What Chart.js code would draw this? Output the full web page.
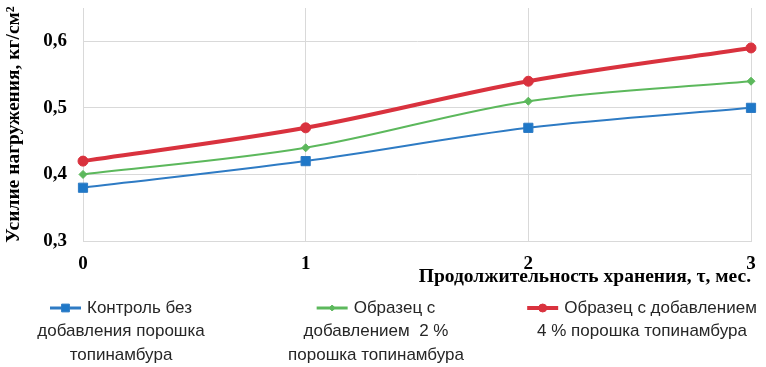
<!DOCTYPE html>
<html>
<head>
<meta charset="utf-8">
<script src="https://cdn.jsdelivr.net/npm/chart.js@4"></script>
<style>
  html, body { margin: 0; padding: 0; background: #fff; }
  #wrap { width: 766px; height: 367px; }
</style>
</head>
<body>
<div id="wrap"><canvas id="grafico"></canvas></div>
<script>
// Данные графика
const meses = ['0', '1', '2', '3'];
const controle = [0.38, 0.42, 0.47, 0.50];
const amostra2 = [0.40, 0.44, 0.51, 0.54];
const amostra4 = [0.42, 0.47, 0.54, 0.59];
const ticksY = [0.3, 0.4, 0.5, 0.6];

// Подписи легенды (по строкам)
const legenda = [
    ['Контроль без', 'добавления порошка', 'топинамбура'],
    ['Образец с', 'добавлением  2 %', 'порошка топинамбура'],
    ['Образец с добавлением', '4 % порошка топинамбура']
];
const centrosLegenda = [121, 376, 642];

const fonteSerif = '"Liberation Serif", "DejaVu Serif", serif';
const fonteLegenda = '"Liberation Sans", "Roboto", sans-serif';

// Plugin para desenhar a legenda centrada em várias linhas
const legendaPlugin = {
    id: 'legendaMulti',
    afterDraw(chart) {
        const ctx = chart.ctx;
        ctx.save();
        ctx.font = '17px ' + fonteLegenda;
        ctx.textBaseline = 'middle';
        chart.data.datasets.forEach((ds, i) => {
            const linhas = legenda[i];
            const cx = centrosLegenda[i];
            linhas.forEach((txt, j) => {
                const y = 308 + j * 23.5;
                const w = ctx.measureText(txt).width;
                ctx.fillStyle = '#262626';
                if (j === 0) {
                    const iconW = 31;
                    const x0 = cx - (iconW + 6 + w) / 2;
                    ctx.strokeStyle = ds.borderColor;
                    ctx.lineWidth = Math.max(ds.borderWidth, 3);
                    ctx.beginPath();
                    ctx.moveTo(x0, y);
                    ctx.lineTo(x0 + iconW, y);
                    ctx.stroke();
                    ctx.fillStyle = ds.backgroundColor;
                    ctx.lineWidth = 1;
                    Chart.helpers.drawPoint(ctx, {
                        pointStyle: ds.pointStyle,
                        radius: ds.pointRadius - 1,
                        borderWidth: 1,
                        rotation: 0
                    }, x0 + iconW / 2, y);
                    ctx.fillStyle = '#262626';
                    ctx.textAlign = 'left';
                    ctx.fillText(txt, x0 + iconW + 6, y);
                } else {
                    ctx.textAlign = 'center';
                    ctx.fillText(txt, cx, y);
                }
            });
        });
        ctx.restore();
    }
};

function gerarGrafico() {
    const ctx = document.getElementById('grafico').getContext('2d');
    new Chart(ctx, {
        type: 'line',
        data: {
            labels: meses,
            datasets: [{
                label: legenda[0].join(' '),
                data: controle,
                borderColor: '#2e7bc4',
                backgroundColor: '#1f78c8',
                borderWidth: 2,
                pointStyle: 'rect',
                pointRadius: 6.5,
                pointBorderWidth: 1,
                cubicInterpolationMode: 'monotone'
            }, {
                label: legenda[1].join(' '),
                data: amostra2,
                borderColor: '#5cb85c',
                backgroundColor: '#5cb85c',
                borderWidth: 2,
                pointStyle: 'rectRot',
                pointRadius: 4,
                pointBorderWidth: 1,
                cubicInterpolationMode: 'monotone'
            }, {
                label: legenda[2].join(' '),
                data: amostra4,
                borderColor: '#d9323e',
                backgroundColor: '#d9323e',
                borderWidth: 4,
                pointStyle: 'circle',
                pointRadius: 5,
                pointBorderWidth: 1,
                cubicInterpolationMode: 'monotone'
            }]
        },
        options: {
            responsive: true,
            maintainAspectRatio: false,
            animation: false,
            layout: { padding: { top: 0, right: 15, bottom: 80, left: 0 } },
            scales: {
                x: {
                    offset: false,
                    grid: { color: '#d9d9d9', drawTicks: false },
                    border: { color: '#d9d9d9' },
                    afterFit(scale) {
                        scale.height = 46;
                        scale.paddingLeft = 0;
                        scale.paddingRight = 0;
                    },
                    ticks: {
                        color: '#000',
                        padding: 12,
                        font: { family: fonteSerif, size: 19, weight: 'bold' }
                    },
                    title: {
                        display: true,
                        align: 'end',
                        text: 'Продолжительность хранения, τ, мес.',
                        color: '#000',
                        padding: { top: 0, bottom: -2 },
                        font: { family: fonteSerif, size: 19.5, weight: 'bold' }
                    }
                },
                y: {
                    min: 0.3,
                    max: 0.65,
                    grid: { color: '#d9d9d9', drawTicks: false },
                    border: { color: '#d9d9d9' },
                    afterBuildTicks(axis) {
                        axis.ticks = ticksY.map(v => ({ value: v }));
                    },
                    afterFit(scale) {
                        scale.width = 83;
                        scale.paddingTop = 8;
                        scale.paddingBottom = 0;
                    },
                    ticks: {
                        color: '#000',
                        padding: 16,
                        font: { family: fonteSerif, size: 19, weight: 'bold' },
                        callback: v => v.toFixed(1).replace('.', ',')
                    },
                    title: {
                        display: true,
                        text: 'Усилие нагружения, кг/см²',
                        color: '#000',
                        padding: { top: 2, bottom: 0 },
                        font: { family: fonteSerif, size: 19.5, weight: 'bold' }
                    }
                }
            },
            plugins: {
                legend: { display: false },
                tooltip: { enabled: false }
            }
        },
        plugins: [legendaPlugin]
    });
}

window.onload = function () {
    gerarGrafico();
};
</script>
</body>
</html>
